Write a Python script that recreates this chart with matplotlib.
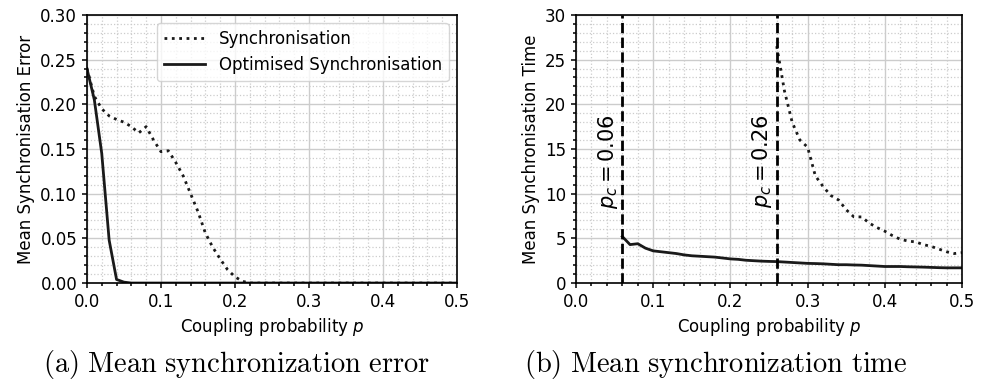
import matplotlib
matplotlib.use("Agg")
import matplotlib.pyplot as plt
import matplotlib.ticker as ticker
import numpy as np

###########################
# PLOT PARAMETERS
###########################
SMALL_SIZE = 12
plt.rc('font', size=SMALL_SIZE)
plt.rc('axes', labelsize=SMALL_SIZE)
plt.rc('xtick', labelsize=SMALL_SIZE)
plt.rc('ytick', labelsize=SMALL_SIZE)
plt.rc('legend', fontsize=SMALL_SIZE)

# (a) mean synchronisation error
p_err = np.round(np.arange(0, 0.501, 0.01), 2)
err_sync = [0.240, 0.209, 0.195, 0.187, 0.183, 0.180, 0.175, 0.168, 0.175, 0.160,
            0.147, 0.148, 0.135, 0.120, 0.100, 0.080, 0.056, 0.040, 0.027, 0.015,
            0.007, 0.002, 0.000] + [0.0] * 28
err_opt = [0.240, 0.205, 0.145, 0.048, 0.004, 0.001] + [0.0] * 45

# (b) mean synchronisation time
p_time_opt = np.round(np.arange(0.06, 0.501, 0.01), 2)
time_opt = [5.2, 4.3, 4.4, 3.9, 3.6, 3.5, 3.4, 3.3, 3.15, 3.05,
            3.0, 2.95, 2.9, 2.8, 2.7, 2.65, 2.55, 2.5, 2.45, 2.42,
            2.4, 2.35, 2.3, 2.25, 2.2, 2.18, 2.15, 2.1, 2.05, 2.05,
            2.02, 2.0, 1.95, 1.9, 1.85, 1.85, 1.85, 1.82, 1.8, 1.78,
            1.75, 1.72, 1.7, 1.7, 1.7]
p_time_sync = np.round(np.arange(0.26, 0.501, 0.01), 2)
time_sync = [26.5, 21.5, 18.0, 16.0, 15.2, 12.0, 10.8, 9.8, 9.3, 8.2,
             7.4, 7.4, 6.7, 6.2, 5.8, 5.3, 4.9, 4.7, 4.6, 4.3,
             4.1, 3.8, 3.5, 3.3, 3.4]

p_crit = [0.06, 0.26]
x_ticks = [0.0, 0.1, 0.2, 0.3, 0.4, 0.5]


def style_axes(ax, ymax, ymajor, yminor):
    ax.set_xlim(0, 0.5)
    ax.set_ylim(0, ymax)
    ax.set_xticks(x_ticks)
    ax.xaxis.set_minor_locator(ticker.MultipleLocator(0.02))
    ax.yaxis.set_major_locator(ticker.MultipleLocator(ymajor))
    ax.yaxis.set_minor_locator(ticker.MultipleLocator(yminor))
    ax.grid(which='major', color='#cccccc', linestyle='-', linewidth=1.0)
    ax.grid(which='minor', color='#cccccc', linestyle=':', linewidth=0.9)
    ax.set_axisbelow(True)
    ax.tick_params(which='both', width=1.1, color='black')
    for s in ax.spines.values():
        s.set_linewidth(1.2)
        s.set_color('black')
    ax.set_xlabel(r"Coupling probability $p$")


fig = plt.figure(figsize=(9.88, 3.83), dpi=100)
ax1 = fig.add_axes([0.088, 0.261, 0.3745, 0.700])
ax2 = fig.add_axes([0.583, 0.261, 0.3907, 0.700])

# left panel
ax1.plot(p_err, err_sync, color='#1a1a1a', linestyle=':', linewidth=2, label="Synchronisation")
ax1.plot(p_err, err_opt, color='#1a1a1a', linestyle='-', linewidth=2, label="Optimised Synchronisation")
style_axes(ax1, 0.30, 0.05, 0.01)
ax1.yaxis.set_major_formatter(ticker.FormatStrFormatter('%.2f'))
ax1.set_ylabel("Mean Synchronisation Error")
ax1.legend(loc="upper right", handlelength=2.5, borderaxespad=0.5)

# right panel
ax2.plot(p_time_sync, time_sync, color='#1a1a1a', linestyle=':', linewidth=2)
ax2.plot(p_time_opt, time_opt, color='#1a1a1a', linestyle='-', linewidth=2)
for pc in p_crit:
    ax2.axvline(pc, color='black', linestyle='--', linewidth=2)
    ax2.text(pc - 0.003, 13.6, r"$p_c = %.2f$" % pc, rotation=90,
             ha='right', va='center', fontsize=15)
style_axes(ax2, 30, 5, 1)
ax2.set_ylabel("Mean Synchronisation Time")

# sub-figure captions
fig.text(0.239, 0.03, r"$\mathrm{(a)\ Mean\ synchronization\ error}$",
         ha='center', va='baseline', fontsize=20.5, math_fontfamily='cm')
fig.text(0.724, 0.03, r"$\mathrm{(b)\ Mean\ synchronization\ time}$",
         ha='center', va='baseline', fontsize=20.5, math_fontfamily='cm')

plt.savefig("out.png", dpi=100)
